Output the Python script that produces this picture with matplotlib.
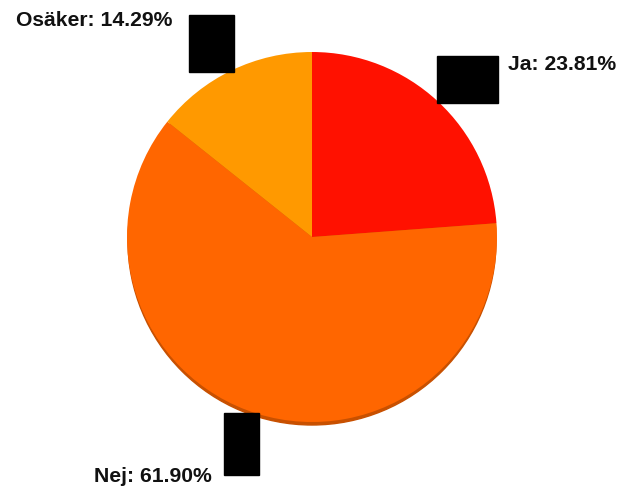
import matplotlib.pyplot as plt
from matplotlib.patches import Circle, Rectangle

labels = ['Ja', 'Nej', 'Osäker']
shares = [23.81, 61.90, 14.29]
colors = ['#FF1100', '#FF6600', '#FF9900']

W, H = 625, 495
fig = plt.figure(figsize=(6.25, 4.95), dpi=100)
ax = fig.add_axes([0, 0, 1, 1])

cx, cy, r = 312, H - 237, 185

# thin darker rim under the pie for the 3d look
ax.add_patch(Circle((cx, cy - 4), r - 1, color='#C85000', zorder=1))
ax.pie(shares, colors=colors, startangle=90, counterclock=False,
       center=(cx, cy), radius=r, frame=True,
       wedgeprops=dict(linewidth=0, zorder=2))
ax.set_xlim(0, W)
ax.set_ylim(0, H)
ax.set_aspect('equal')
ax.axis('off')

# black boxes where the label connectors should be
for x0, y0, x1, y1 in [(189, 15, 234, 72), (437, 56, 498, 103), (224, 413, 259, 475)]:
    ax.add_patch(Rectangle((x0, H - y1), x1 - x0, y1 - y0, color='black', zorder=3))

font = dict(family='Liberation Sans', weight='bold', fontsize=15.2, color='#111111')
ax.text(16, H - 20, '%s: %.2f%%' % (labels[2], shares[2]), ha='left', va='center', **font)
ax.text(508, H - 64, '%s: %.2f%%' % (labels[0], shares[0]), ha='left', va='center', **font)
ax.text(94, H - 476, '%s: %.2f%%' % (labels[1], shares[1]), ha='left', va='center', **font)

fig.savefig('out.png', dpi=100)
